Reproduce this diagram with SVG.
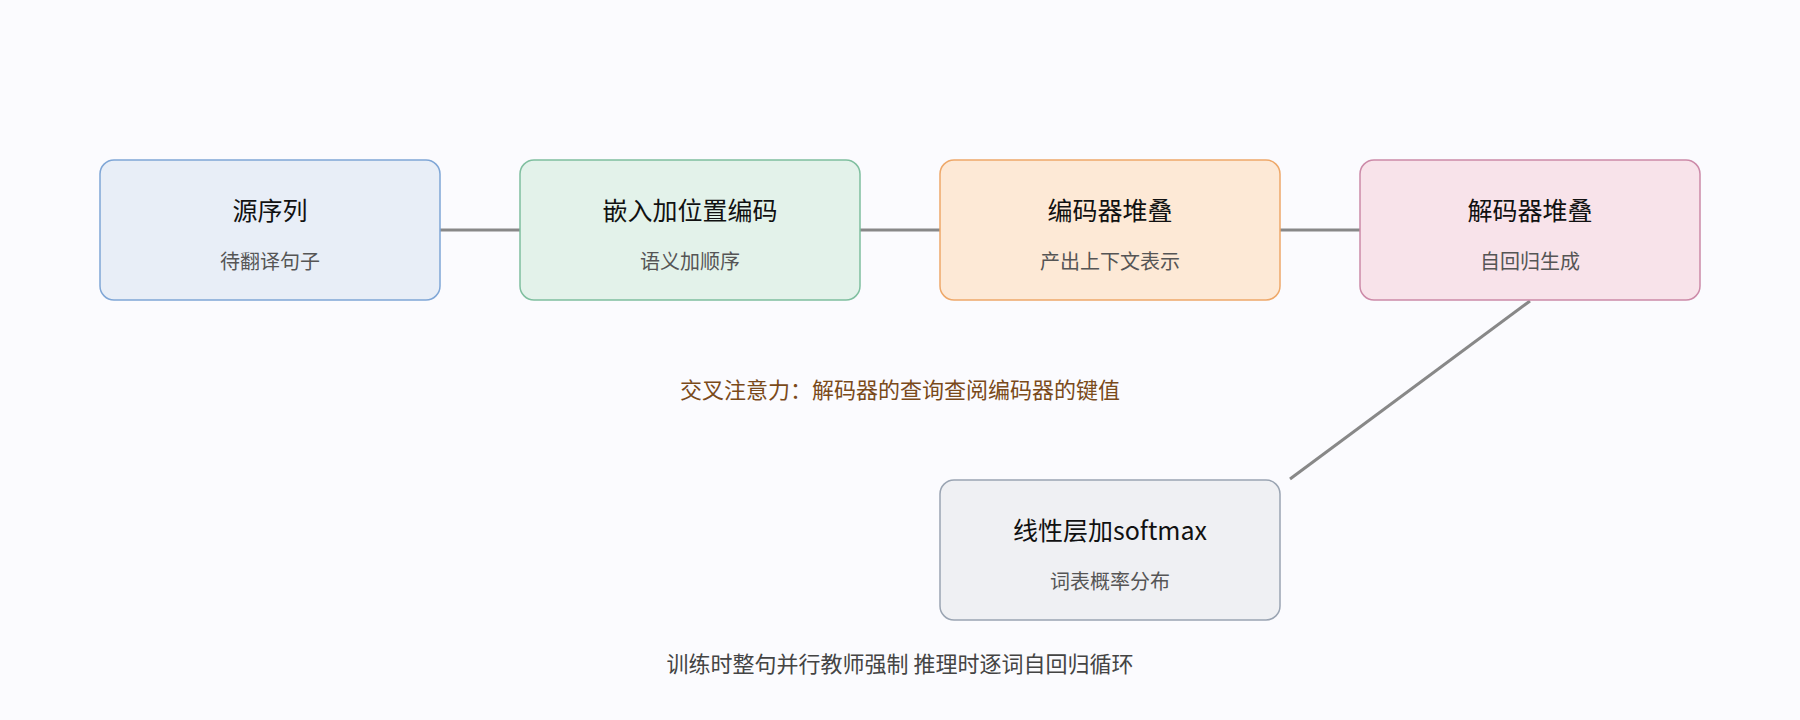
<svg xmlns="http://www.w3.org/2000/svg" width="1800" height="720" viewBox="0 0 1800 720">
<style>
.t{font-family:"Noto Sans CJK SC","Noto Sans",sans-serif;font-size:25px;fill:#111;text-anchor:middle}
.s{font-family:"Noto Sans CJK SC","Noto Sans",sans-serif;font-size:20px;fill:#555;text-anchor:middle}
.c{stroke:#888;stroke-width:3;fill:none}
</style>
<rect width="1800" height="720" fill="#fbfbfe"/>
<g id="connectors">
<line class="c" x1="440" y1="230" x2="520" y2="230"/>
<line class="c" x1="860" y1="230" x2="940" y2="230"/>
<line class="c" x1="1280" y1="230" x2="1360" y2="230"/>
<line class="c" x1="1530" y1="301" x2="1290" y2="479"/>
</g>
<g id="n1"><rect x="100" y="160" width="340" height="140" rx="14" fill="#e8eef7" stroke="#7fa6d6" stroke-width="1.5"/><text class="t" x="270" y="220">源序列</text><text class="s" x="270" y="269">待翻译句子</text></g>
<g id="n2"><rect x="520" y="160" width="340" height="140" rx="14" fill="#e3f2ea" stroke="#7fbf9f" stroke-width="1.5"/><text class="t" x="690" y="220">嵌入加位置编码</text><text class="s" x="690" y="269">语义加顺序</text></g>
<g id="n3"><rect x="940" y="160" width="340" height="140" rx="14" fill="#fde9d6" stroke="#eea869" stroke-width="1.5"/><text class="t" x="1110" y="220">编码器堆叠</text><text class="s" x="1110" y="269">产出上下文表示</text></g>
<g id="n4"><rect x="1360" y="160" width="340" height="140" rx="14" fill="#f8e3ea" stroke="#cc8aa8" stroke-width="1.5"/><text class="t" x="1530" y="220">解码器堆叠</text><text class="s" x="1530" y="269">自回归生成</text></g>
<g id="n5"><rect x="940" y="480" width="340" height="140" rx="14" fill="#eff0f3" stroke="#9aa4b2" stroke-width="1.5"/><text class="t" x="1110" y="540">线性层加softmax</text><text class="s" x="1110" y="589">词表概率分布</text></g>
<text class="s" x="900" y="398" style="fill:#7a4a1a;font-size:22px">交叉注意力：解码器的查询查阅编码器的键值</text>
<text class="s" x="900" y="672" style="font-size:22px;fill:#444">训练时整句并行教师强制 推理时逐词自回归循环</text>
</svg>
